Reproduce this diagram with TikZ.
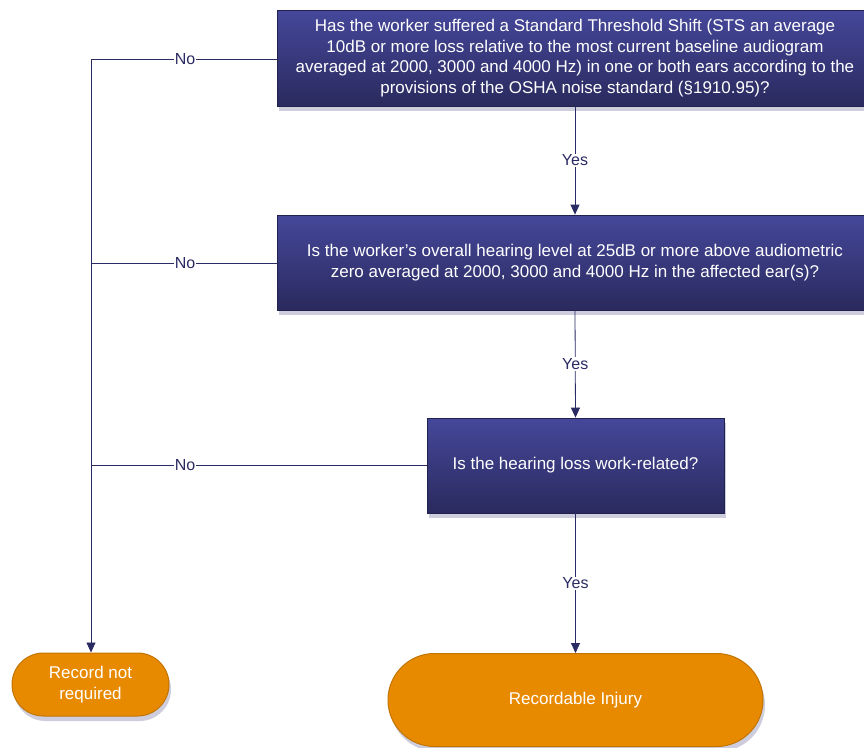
\documentclass[tikz,border=0pt]{standalone}
\usepackage{fontspec}
\setmainfont{Liberation Sans}
\usetikzlibrary{shadows,arrows.meta,shapes.misc}
\definecolor{navy}{HTML}{2B2B63}
\definecolor{boxtop}{HTML}{45479A}
\definecolor{boxbot}{HTML}{2A2A5E}
\definecolor{orng}{HTML}{E88A00}
\definecolor{orngdark}{HTML}{C27400}
\definecolor{shade}{HTML}{7070A0}
\tikzset{
  qbox/.style={rectangle, draw=navy!80!black, line width=0.8pt, top color=boxtop, bottom color=boxbot,
    text=white, align=center, font=\fontsize{17}{20.5}\selectfont, inner sep=0pt,
    drop shadow={shadow xshift=2pt, shadow yshift=-5pt, opacity=0.35, fill=shade}},
  term/.style={rounded rectangle, draw=orngdark, line width=1pt, fill=orng, text=white, align=center,
    font=\fontsize{17}{20.5}\selectfont, inner sep=0pt,
    drop shadow={shadow xshift=2pt, shadow yshift=-5pt, opacity=0.35, fill=shade}},
  conn/.style={draw=navy, line width=0.8pt},
  arr/.style={conn, -{Triangle[length=10pt,width=9pt]}},
  lbl/.style={fill=white, text=navy, font=\fontsize{16}{18}\selectfont, inner sep=1pt}
}
\begin{document}
\begin{tikzpicture}[x=1pt,y=-1pt]
\clip (0,0) rectangle (864,747);
\fill[white] (0,0) rectangle (864,747);
\node[qbox, minimum width=596pt, minimum height=96pt] (q1) at (575,58)
  {Has the worker suffered a Standard Threshold Shift (STS an average\\
   10dB or more loss relative to the most current baseline audiogram\\
   averaged at 2000, 3000 and 4000 Hz) in one or both ears according to the\\
   provisions of the OSHA noise standard (§1910.95)?};
\node[qbox, minimum width=596pt, minimum height=95pt] (q2) at (575,262.5)
  {Is the worker's overall hearing level at 25dB or more above audiometric\\
   zero averaged at 2000, 3000 and 4000 Hz in the affected ear(s)?};
\node[qbox, minimum width=297pt, minimum height=95pt] (q3) at (575.5,465.5)
  {Is the hearing loss work-related?};
\node[term, minimum width=375pt, minimum height=93pt] (rec) at (575.5,700)
  {Recordable Injury};
\node[term, minimum width=157pt, minimum height=63pt] (norec) at (90.5,684.5)
  {Record not\\required};
\coordinate (c1) at (91,59);
\coordinate (c2) at (91,263);
\coordinate (c3) at (91,465);
\draw[conn] (q1.west |- c1) -- (c1);
\node[lbl] (n1) at (185,59) {No};
\draw[conn] (q2.west |- c2) -- (c2);
\node[lbl] (n2) at (185,263) {No};
\draw[conn] (q3.west |- c3) -- (c3);
\node[lbl] (n3) at (185,465) {No};
\draw[arr] (c1) -- (norec.north -| c1);
\draw[arr] (q1.south) -- node[lbl] {Yes} (q2.north);
\draw[arr] (q2.south) -- node[lbl] {Yes} (q3.north);
\draw[arr] (q3.south) -- node[lbl] {Yes} (rec.north);
\end{tikzpicture}
\end{document}
